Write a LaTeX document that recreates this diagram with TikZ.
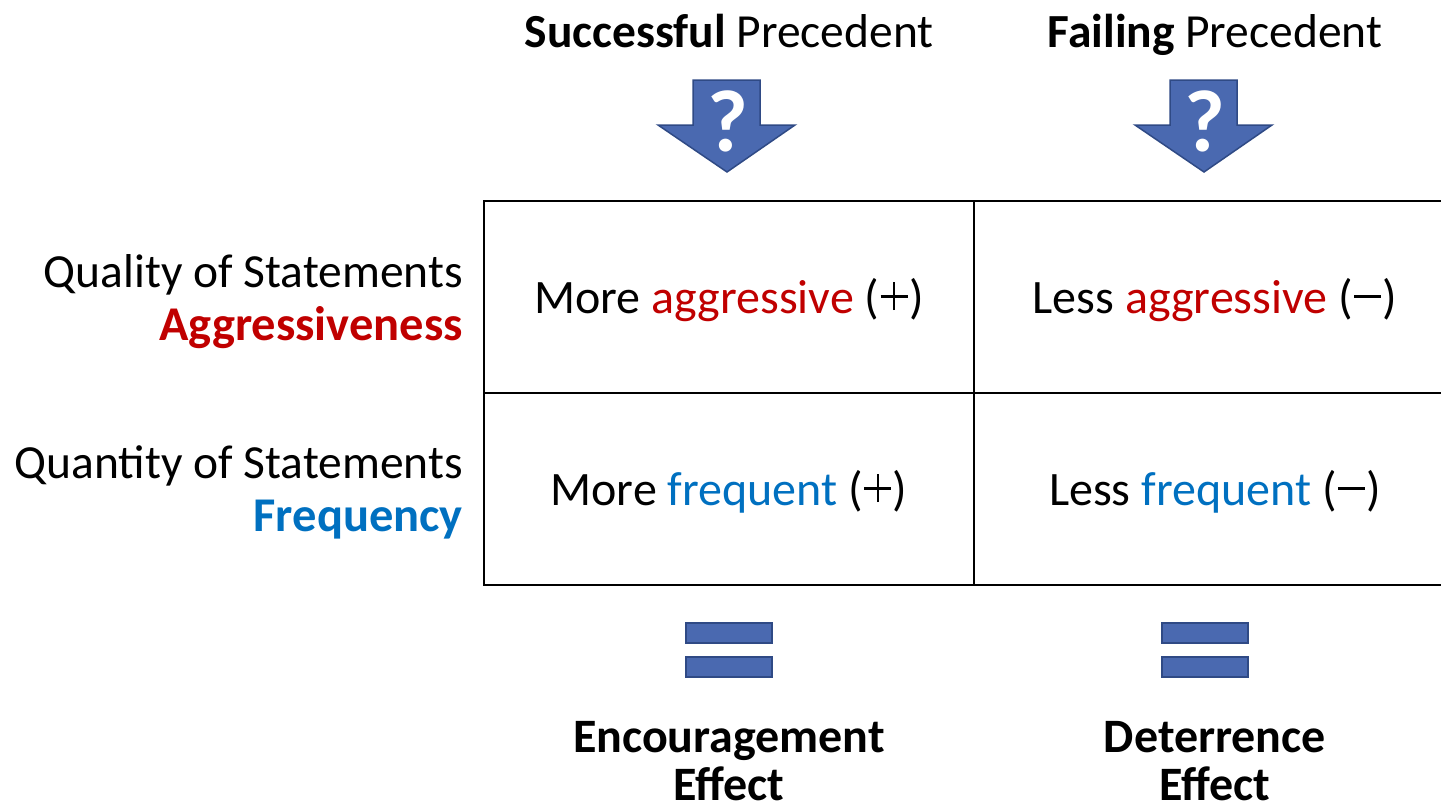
\documentclass[tikz,border=0pt]{standalone}
\usepackage{fontspec}
\setmainfont{Carlito}
\definecolor{myred}{HTML}{C00000}
\definecolor{myblue}{HTML}{0070C0}
\definecolor{shapefill}{HTML}{4A69B0}
\definecolor{shapeline}{HTML}{2F4A85}
\newcommand{\mminus}{\hspace{0.03em}\raisebox{0.32em}{\rule{0.56em}{0.055em}}\hspace{0.03em}}
\newcommand{\mplus}{\hspace{0.03em}\makebox[0.56em]{\rule[0.32em]{0.56em}{0.055em}\hspace{-0.3075em}\rule[0.06em]{0.055em}{0.58em}\hspace{0.2525em}}\hspace{0.03em}}
\begin{document}
\begin{tikzpicture}[x=1pt,y=-1pt,
  cell/.style={draw=black,line width=2.2pt,minimum height=192pt,inner sep=0pt},
  ctext/.style={anchor=base,inner sep=0pt,font=\fontsize{48}{52}\selectfont},
  lbl/.style={anchor=base east,inner sep=0pt,font=\fontsize{47.5}{52}\selectfont},
  blbl/.style={anchor=base east,inner sep=0pt,font=\bfseries\fontsize{48.5}{52}\selectfont},
  ttl/.style={anchor=base,inner sep=0pt,font=\fontsize{47.5}{52}\selectfont},
  bar/.style={draw=shapeline,fill=shapefill,line width=2pt,minimum width=86pt,minimum height=20pt,inner sep=0pt},
  arrowshape/.style={draw=shapeline,fill=shapefill,line width=1.5pt,line join=miter},
  qmark/.style={text=white,inner sep=0pt,font=\bfseries\fontsize{88}{88}\selectfont},
  eff/.style={anchor=base,align=center,inner sep=0pt,font=\bfseries\fontsize{48}{48}\selectfont}]
\useasboundingbox (0,0) rectangle (1441,809);
% table cells
\node[cell,minimum width=490pt] (c11) at (729,297) {};
\node[cell,minimum width=490pt] (c21) at (729,489) {};
\node[cell,minimum width=473pt] (c12) at (1210.5,297) {};
\node[cell,minimum width=473pt] (c22) at (1210.5,489) {};
% cell texts
\node[ctext] (t11) at (729,313) {More \textcolor{myred}{aggressive} (\mplus)};
\node[ctext] (t12) at (1215,313) {Less \textcolor{myred}{aggressive} (\mminus)};
\node[ctext] (t21) at (729,505) {More \textcolor{myblue}{frequent} (\mplus)};
\node[ctext] (t22) at (1215,505) {Less \textcolor{myblue}{frequent} (\mminus)};
% row labels
\node[lbl] (r1a) at (463,287) {Quality of Statements};
\node[blbl,text=myred] (r1b) at (463,340) {Aggressiveness};
\node[lbl] (r2a) at (463,478) {Quantity of Statements};
\node[blbl,text=myblue] (r2b) at (463,531) {Frequency};
% titles
\node[ttl] (h1) at (729,47) {\textbf{Successful} Precedent};
\node[ttl] (h2) at (1215,47) {\textbf{Failing} Precedent};
% arrows
\draw[arrowshape] (693,80) -- (760,80) -- (760,125) -- (795,125) -- (727,172) -- (658,125) -- (693,125) -- cycle;
\draw[arrowshape] (1170,80) -- (1237,80) -- (1237,125) -- (1272,125) -- (1204,172) -- (1135,125) -- (1170,125) -- cycle;
\node[qmark] (q1) at (728,121) {?};
\node[qmark] (q2) at (1205,121) {?};
% equals
\node[bar] (e1a) at (728.5,633) {};
\node[bar] (e1b) at (728.5,666.5) {};
\node[bar] (e2a) at (1205,633) {};
\node[bar] (e2b) at (1205,666.5) {};
% effects
\node[eff] (f1) at (729,800) {Encouragement\\Effect};
\node[eff] (f2) at (1215,800) {Deterrence\\Effect};
\end{tikzpicture}
\end{document}
